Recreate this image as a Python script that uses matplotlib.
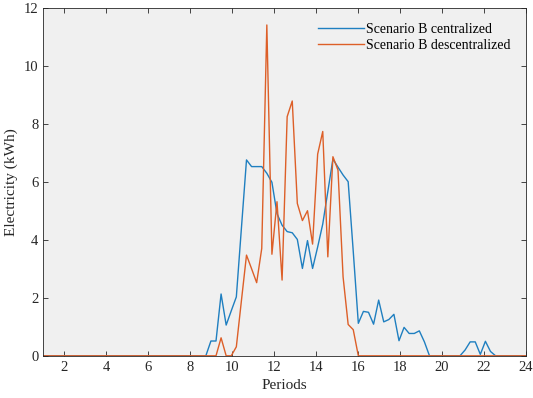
import numpy as np
import matplotlib
matplotlib.use("Agg")
import matplotlib.pyplot as plt

# 96 periods of 15 min, plotted over 1..24 like the original MATLAB figure
periods = np.linspace(1, 24, 96)

centralized = [0] * 33 + [
    0.51, 0.51, 2.13, 1.06, 1.55, 2.03, 4.4, 6.75, 6.52, 6.52,
    6.52, 6.29, 5.98, 4.9, 4.5, 4.28, 4.24, 4.01, 3.01, 3.97,
    3.01, 3.75, 4.54, 5.66, 6.78, 6.5, 6.23, 6.0, 3.6, 1.12,
    1.53, 1.5, 1.09, 1.92, 1.17, 1.25, 1.43, 0.52, 0.98, 0.77,
    0.77, 0.86, 0.48,
] + [0] * 7 + [0.2, 0.48, 0.48, 0.05, 0.5, 0.15] + [0] * 7

descentralized = [0] * 35 + [
    0.62, 0, 0, 0.31, 1.9, 3.47, 3.0, 2.52, 3.7, 11.4,
    3.5, 5.31, 2.61, 8.24, 8.78, 5.25, 4.66, 5.0, 3.85, 6.95,
    7.73, 3.41, 6.86, 6.4, 2.72, 1.08, 0.9,
] + [0] * 34

labels = ["Scenario B centralized", "Scenario B descentralized"]
xticks = np.arange(2, 25, 2)
yticks = np.arange(0, 13, 2)

plt.rcParams['font.family'] = ['Liberation Serif', 'DejaVu Serif']

fig = plt.figure(figsize=(5.33, 3.98), dpi=100)
ax = fig.add_axes([0.081, 0.106, 0.906, 0.875])
ax.set_facecolor('#f0f0f0')

ax.plot(periods, centralized, color='#1f7fc0', lw=1.0, label=labels[0])
ax.plot(periods, descentralized, color='#dd5f28', lw=1.0, label=labels[1])

ax.set_xlim(1, 24)
ax.set_ylim(0, 12)
ax.set_xticks(xticks)
ax.set_yticks(yticks)
ax.tick_params(direction='in', top=True, right=True, length=3.5, width=0.6,
               labelsize=10.5, colors='#262626')
for sp in ax.spines.values():
    sp.set_color('#262626')
    sp.set_linewidth(0.6)

ax.set_xlabel("Periods", fontsize=11, color='#262626', labelpad=4)
ax.set_ylabel("Electricity (kWh)", fontsize=11, color='#262626', labelpad=4)

ax.legend(loc='upper right', frameon=False, fontsize=10, handlelength=3.3,
          handletextpad=0.15, labelspacing=0.25, borderaxespad=0.7)

fig.savefig("out.png", dpi=100)
